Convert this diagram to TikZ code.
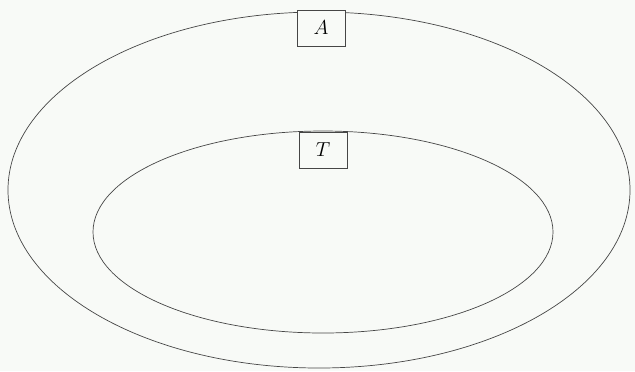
\documentclass[tikz,border=0pt]{standalone}
\usepackage{tikz}
\usetikzlibrary{positioning}

\definecolor{paper}{RGB}{248,250,247}
\definecolor{ink}{RGB}{70,70,70}

\begin{document}
\begin{tikzpicture}[x=0.025cm, y=-0.025cm,
  setline/.style={draw=ink, line width=0.5pt},
  setlabel/.style={draw=ink, line width=0.5pt, fill=paper, inner sep=0pt,
    minimum width=48*0.025cm, minimum height=36*0.025cm,
    font=\fontsize{14.5}{17}\selectfont}]
\fill[paper] (0,0) rectangle (635,371);
\useasboundingbox (0,0) rectangle (635,371);
% outer set A and inner set T
\draw[setline] (319,190) ellipse [x radius=311, y radius=178];
\draw[setline] (323,232) ellipse [x radius=230, y radius=101];
\node[setlabel] (labelA) at (321,28) {$A$};
\node[setlabel] (labelT) at (323,150) {$T$};
\end{tikzpicture}
\end{document}
